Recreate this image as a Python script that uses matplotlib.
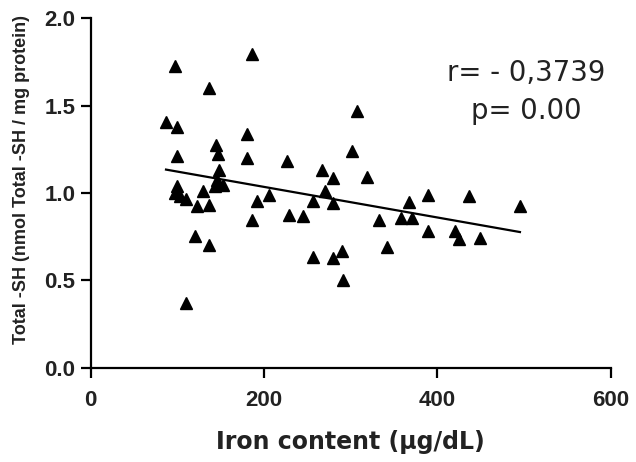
import numpy as np
import matplotlib
matplotlib.use("Agg")
import matplotlib.pyplot as plt
from matplotlib import font_manager as fm

plt.rcParams['font.family'] = ['Liberation Sans', 'DejaVu Sans']

iron = [97.3, 186.5, 136.5, 86.9, 99.2, 180.0, 144.6, 147.2, 99.2, 180.0,
        226.8, 306.9, 301.1, 266.9, 279.6, 148.4, 146.1, 143.4, 152.3, 99.2,
        97.3, 103.0, 110.0, 129.2, 122.3, 136.8, 191.5, 206.1, 256.1, 270.3,
        279.6, 318.5, 367.6, 389.5, 436.8, 495.3, 185.8, 229.1, 244.6, 120.3,
        136.5, 256.8, 279.9, 289.6, 290.8, 110.0, 332.6, 357.7, 370.4, 389.5,
        420.9, 425.0, 448.8, 342.2]
total_sh = [1.725, 1.792, 1.601, 1.404, 1.376, 1.339, 1.276, 1.225, 1.210, 1.200,
            1.185, 1.467, 1.242, 1.133, 1.086, 1.133, 1.076, 1.042, 1.048, 1.038,
            1.000, 0.981, 0.966, 1.009, 0.923, 0.933, 0.952, 0.990, 0.956, 1.009,
            0.940, 1.090, 0.950, 0.990, 0.981, 0.926, 0.847, 0.876, 0.870, 0.756,
            0.704, 0.634, 0.628, 0.666, 0.500, 0.374, 0.847, 0.855, 0.857, 0.780,
            0.780, 0.736, 0.744, 0.693]

x_ticks = [0, 200, 400, 600]
y_ticks = [0.0, 0.5, 1.0, 1.5, 2.0]
x_label = "Iron content (\u03bcg/dL)"
y_label = "Total -SH (nmol Total -SH / mg protein)"
r_text = "r= - 0,3739"
p_text = "p= 0.00"


def bold_font(size):
    # pick the regular-width Liberation Sans Bold file (not the Narrow one)
    for f in fm.fontManager.ttflist:
        if (f.name == 'Liberation Sans' and f.weight in (700, 'bold')
                and f.style == 'normal' and 'Narrow' not in f.fname):
            return fm.FontProperties(fname=f.fname, size=size)
    return fm.FontProperties(family='Liberation Sans', weight='bold', size=size)


fig = plt.figure(figsize=(6.36, 4.62), dpi=100)
ax = fig.add_axes([0.1426, 0.2035, 0.9602 - 0.1426, 0.961 - 0.2035])

x = np.array(iron)
y = np.array(total_sh)
ax.plot(x, y, linestyle='none', marker='^', color='black', markersize=9)

slope, intercept = np.polyfit(x, y, 1)
xl = np.array([x.min(), x.max()])
ax.plot(xl, slope * xl + intercept, color='black', linewidth=1.6)

ax.set_xlim(0, 600)
ax.set_ylim(0, 2.0)
ax.set_xticks(x_ticks)
ax.set_yticks(y_ticks)
tick_fp = bold_font(16)
ax.set_xticklabels([str(t) for t in x_ticks], fontproperties=tick_fp, color='#222222')
ax.set_yticklabels([f"{t:.1f}" for t in y_ticks], fontproperties=tick_fp, color='#222222')
ax.tick_params(direction='out', length=7.5, width=1.6)
ax.tick_params(axis='x', pad=8)
ax.tick_params(axis='y', pad=3.5)

for s in ['top', 'right']:
    ax.spines[s].set_visible(False)
for s in ['left', 'bottom']:
    ax.spines[s].set_linewidth(1.6)

ax.set_xlabel(x_label, fontsize=17, fontweight='bold', color='#222222',
              family=['DejaVu Sans'])
ax.xaxis.set_label_coords(0.5, -0.177)
ax.set_ylabel(y_label, fontproperties=bold_font(13), color='#222222')
ax.yaxis.set_label_coords(-0.117, 0.54)

ax.text(411, 1.639, r_text, fontsize=19.8, ha='left', va='baseline',
        color='#222222', family=['DejaVu Sans'])
ax.text(438.8, 1.424, p_text, fontsize=19.8, ha='left', va='baseline',
        color='#222222', family=['DejaVu Sans'])

fig.savefig("out.png", dpi=100)
